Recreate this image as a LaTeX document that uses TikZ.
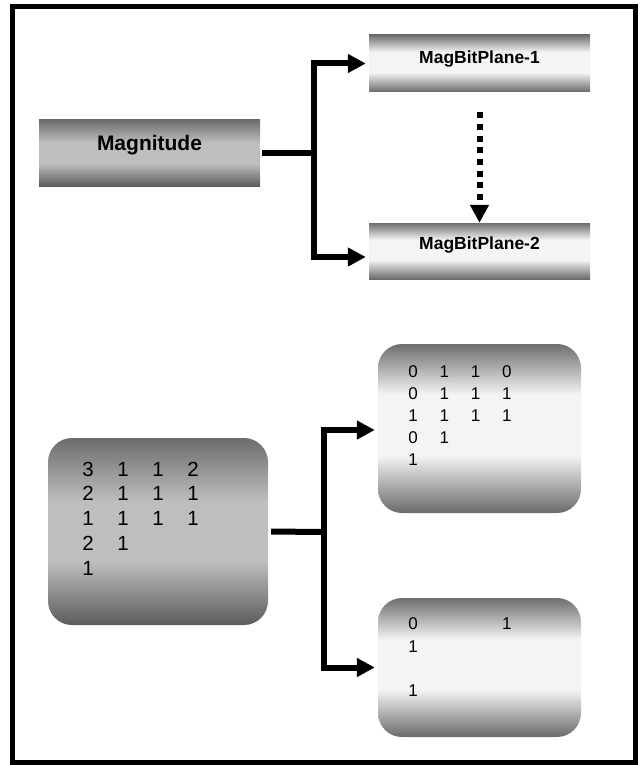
\documentclass[tikz,border=0pt]{standalone}
\usepackage{fontspec}
\setmainfont{Liberation Sans}
\usetikzlibrary{arrows.meta,matrix}

% grey tones of the bar and panel gradients
\definecolor{magtop}{HTML}{6C6C6C}
\definecolor{magmid}{HTML}{BEBEBE}
\definecolor{magbot}{HTML}{5C5C5C}
\definecolor{planetop}{HTML}{6E6E6E}
\definecolor{planemid}{HTML}{F4F4F4}
\definecolor{planebot}{HTML}{6A6A6A}

% vertical gradients: dark at the edges, light band in the middle
\pgfdeclareverticalshading{magshade}{100bp}{color(0bp)=(magbot); color(25bp)=(magbot); color(42bp)=(magmid); color(58bp)=(magmid); color(75bp)=(magtop); color(100bp)=(magtop)}
\pgfdeclareverticalshading{planeshade}{100bp}{color(0bp)=(planebot); color(25bp)=(planebot); color(42bp)=(planemid); color(60bp)=(planemid); color(75bp)=(planetop); color(100bp)=(planetop)}

\tikzset{
  bar/.style={rectangle, inner sep=0pt, minimum width=221pt, font=\bfseries\fontsize{17.5}{20}\selectfont, text height=12.5pt},
  panel/.style={rectangle, rounded corners=24pt, inner sep=0pt},
  conn/.style={line width=6pt},
  arr/.style={line width=6pt, -{Triangle[length=18pt,width=18pt]}, shorten >=3pt},
  dotarrow/.style={line width=6pt, dash pattern=on 6pt off 5.7pt, -{Triangle[length=18pt,width=18pt]}},
  digits/.style={matrix of nodes, nodes in empty cells, inner sep=0pt, column sep=0pt, row sep=0pt,
    nodes={anchor=center, inner sep=0pt}},
}

\begin{document}
\begin{tikzpicture}[x=1pt,y=-1pt]
\useasboundingbox (0,0) rectangle (641,765);

% outer frame
\draw[line width=5pt] (12.5,6.5) rectangle (635.5,762.5);

% ---- upper part: magnitude split into bit planes ----
\node[bar, shading=magshade, minimum height=66pt, font=\bfseries\fontsize{21}{24}\selectfont, text height=15pt, text depth=20pt]
  (mag) at (149.5,153) {Magnitude};
\node[bar, shading=planeshade, minimum height=57pt, text depth=13pt] (mb1) at (479.5,63.5) {MagBitPlane-1};
\node[bar, shading=planeshade, minimum height=56pt, text depth=16pt] (mb2) at (479.5,251) {MagBitPlane-2};

\coordinate (j1) at (314,153);
\draw[conn, shorten <=2pt] (mag.east) -- (j1);
\draw[arr] (j1) |- (mb1.west);
\draw[arr] (j1) |- ([yshift=-6pt]mb2.west);
\draw[dotarrow] ([yshift=-20pt]mb1.south) -- (mb2.north);

% ---- lower part: magnitude values and their bit planes ----
\node[panel, shading=magshade, minimum width=220pt, minimum height=187pt] (vals) at (158,531.5) {};
\node[panel, shading=planeshade, minimum width=203pt, minimum height=169pt] (bp1) at (479.5,428.5) {};
\node[panel, shading=planeshade, minimum width=203pt, minimum height=139pt] (bp2) at (479.5,667.5) {};

\matrix[digits, nodes={minimum width=35pt, minimum height=24.75pt, font=\fontsize{20.5}{22}\selectfont}]
  (valsm) at (140.5,518.5) {
  3 & 1 & 1 & 2 \\
  2 & 1 & 1 & 1 \\
  1 & 1 & 1 & 1 \\
  2 & 1 &   &   \\
  1 &   &   &   \\
};
\matrix[digits, nodes={minimum width=31.3pt, minimum height=22pt, font=\fontsize{17}{19}\selectfont}]
  (bp1m) at (460,416) {
  0 & 1 & 1 & 0 \\
  0 & 1 & 1 & 1 \\
  1 & 1 & 1 & 1 \\
  0 & 1 &   &   \\
  1 &   &   &   \\
};
\matrix[digits, nodes={minimum width=31.3pt, minimum height=22.3pt, font=\fontsize{17}{19}\selectfont}]
  (bp2m) at (460,657.5) {
  0 &   &   & 1 \\
  1 &   &   &   \\
    &   &   &   \\
  1 &   &   &   \\
};

\coordinate (j2) at (324,532);
\draw[conn, shorten <=3pt] (vals.east) -- (j2);
\draw[arr] (j2) |- ([yshift=-1.5pt]bp1.west);
\draw[arr] (j2) |- (bp2.west);
\end{tikzpicture}
\end{document}
